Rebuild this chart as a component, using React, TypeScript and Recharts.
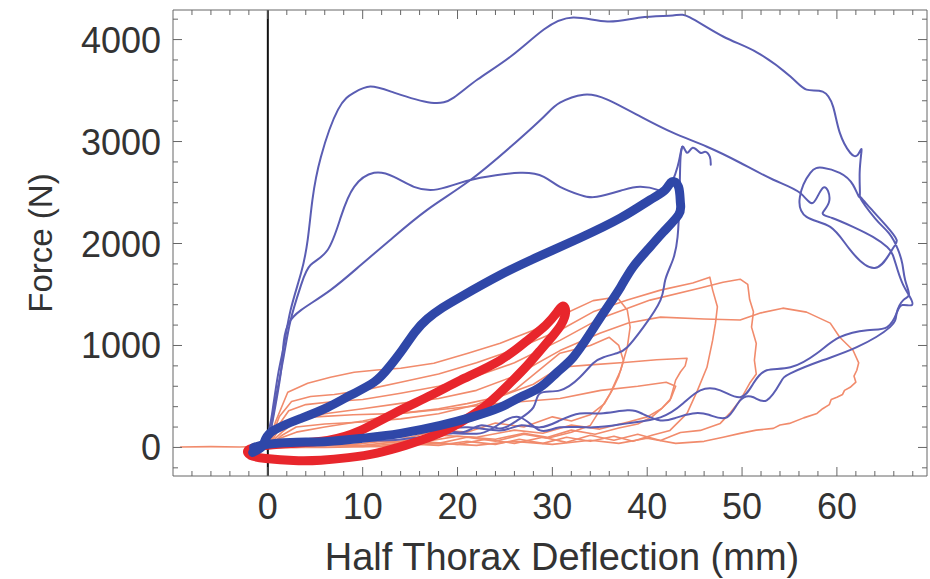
import { LineChart, Line, XAxis, YAxis, ReferenceLine } from "recharts";

type P = [number, number];

// thick mean corridors
const thickBlue: P[] = [
  [-1.6, -49], [-0.5, 20], [0.3, 147], [3.5, 285], [6.3, 393], [8.7, 511], [11.2, 640], [12.8, 790],
  [14.2, 960], [15.5, 1130], [16.8, 1260], [18.4, 1370], [20.3, 1475], [24.5, 1691], [28.7, 1878],
  [32.9, 2054], [37.2, 2251], [40.3, 2428], [41.9, 2526], [42.6, 2605], [43.3, 2556], [43.5, 2398],
  [43.3, 2281], [41.7, 2113], [40.3, 1966], [38.5, 1769], [37.2, 1573], [35.6, 1347], [34.0, 1121],
  [32.2, 885], [30.5, 737], [28.7, 590], [26.6, 492], [24.5, 393], [21.4, 295], [18.2, 216],
  [14.0, 138], [9.8, 88], [6.3, 59], [2.4, 49], [-0.2, 29], [-1.5, 0],
];

const thickRed: P[] = [
  [-0.2, 20], [2.4, 39], [6.3, 69], [9.8, 167], [13.3, 334], [17.2, 511], [20.3, 659], [24.5, 855],
  [27.4, 1052], [29.3, 1199], [30.5, 1327], [31.1, 1386], [31.4, 1327], [30.9, 1200], [30, 1090],
  [28.8, 960], [27.4, 810], [25.9, 665], [24.3, 520], [22.4, 370], [20.2, 240], [17.6, 120],
  [14.5, 20], [11.5, -55], [8.5, -100], [5.6, -125], [2.7, -128], [-0.2, -108], [-1.8, -79],
  [-2.1, -29], [-1.3, 0],
];

// thin blue tests
const blueA: P[] = [
  [-0.5, 0], [0.1, 167], [0.5, 364], [1.1, 727], [1.7, 1003], [2.4, 1347], [3.5, 1710], [4.2, 2035],
  [4.7, 2428], [5.6, 2851], [7.4, 3313], [9.1, 3480], [10.8, 3539], [13.3, 3480], [17.2, 3381],
  [19.6, 3431], [22.1, 3608], [25.6, 3834], [29.1, 4099], [32.2, 4217], [35.8, 4178], [39.3, 4217],
  [42.7, 4237], [44.5, 4217], [48, 4030], [51.6, 3873], [55.1, 3637], [56.8, 3509], [58.5, 3490],
  [59.6, 3342], [60.3, 3087], [61.4, 2890], [62.2, 2870], [62.6, 2920], [62.4, 2693], [62.4, 2458],
  [61.7, 2575], [60.3, 2693], [58.5, 2743], [57.2, 2693], [56.1, 2458], [56.8, 2261], [59.3, 2163],
  [61.4, 1937], [64, 1760], [65.8, 1937], [66.3, 2035], [65.3, 2163], [63.5, 2349], [62.4, 2458],
  [64, 2250], [65.5, 2100], [66.4, 1950], [66.9, 1800], [67.2, 1640], [67.6, 1500], [67.0, 1445],
  [66.3, 1317], [65.6, 1180], [62.1, 983], [58.5, 855], [55.1, 727], [54, 629], [52.6, 462],
  [51.2, 492], [49.8, 462], [48.4, 295], [46.5, 320], [44.8, 334], [43, 290], [41.4, 265],
  [39.5, 330], [37.9, 364], [35.1, 334], [32.9, 334], [30.8, 265], [28.7, 197], [26.6, 216],
  [24.5, 167], [21.1, 197], [17.5, 167], [14, 138], [9.8, 98], [5.6, 69], [1.4, 39], [-0.2, 10],
];

const blueB: P[] = [
  [-0.2, 0], [0.3, 167], [0.8, 462], [1.6, 855], [2.4, 1248], [3.5, 1592], [4.5, 1789], [6.3, 1936],
  [7.7, 2261], [9.1, 2556], [11.2, 2693], [13.3, 2654], [15.4, 2556], [17.5, 2526], [19.6, 2575],
  [22.4, 2644], [26.6, 2693], [29.1, 2654], [30.8, 2556], [32.9, 2477], [34.7, 2458], [37.5, 2526],
  [39.3, 2556], [41.1, 2526], [42.1, 2526], [43.2, 2752], [43.7, 2949], [44.2, 2890], [44.8, 2939],
  [45.6, 2890], [46.1, 2900], [46.6, 2851], [46.7, 2772],
];

const blueBReturn: P[] = [
  [43.7, 2949], [43.5, 2821], [43.4, 2428], [43.2, 2064], [42.7, 1838], [41.9, 1642], [41.4, 1445],
  [39.6, 1180], [37.9, 983], [36.8, 924], [35.4, 885], [34.3, 826], [32.9, 688], [30.8, 560],
  [28.7, 531], [28, 393], [26.3, 265], [24.5, 187], [22.4, 216], [20.3, 147], [17.2, 187],
  [14, 108], [9.8, 88], [5.6, 49], [1.4, 20],
];

const blueC: P[] = [
  [-0.2, 0], [0.3, 167], [0.9, 462], [1.4, 757], [1.7, 1052], [2.2, 1219], [3.5, 1347], [6.6, 1543],
  [9.8, 1789], [12.9, 2035], [16.8, 2330], [21.1, 2605], [25.6, 2949], [29.1, 3244], [30.8, 3381],
  [33.3, 3460], [35.8, 3411], [39.3, 3244], [42.7, 3087], [46.3, 2949], [49.8, 2792], [53.3, 2625],
  [56.1, 2497], [57.5, 2400], [58.6, 2550], [59.2, 2420], [58.5, 2300], [59.5, 2250], [61.7, 2163],
  [63.8, 2064], [65.3, 1966], [65.9, 1887], [66.4, 1740], [67, 1592], [67.7, 1475], [67.9, 1396],
  [66.9, 1396], [66.3, 1317], [65.3, 1180], [63.2, 1150], [60.3, 1081], [57.9, 924], [55.1, 786],
  [52.6, 757], [51.2, 629], [49.8, 492], [47.7, 560], [45.6, 560], [43.8, 433], [41.4, 295],
  [37.9, 236], [34.3, 197], [30.8, 197], [28.7, 167], [26.6, 295], [24.5, 236], [22.4, 138],
  [19.3, 138], [15.8, 98], [11.9, 69], [6.6, 69], [2.4, 49], [0.1, 20],
];

// thin orange tests
const orange1: P[] = [
  [0, 0], [1.2, 300], [2.5, 450], [4.5, 500], [7, 520], [10, 560], [14, 640], [18, 720], [22, 830],
  [26, 960], [30.8, 1150], [34.3, 1330], [37.9, 1445], [41.4, 1543], [44.8, 1612], [46.6, 1670],
  [46.9, 1543], [47.4, 1380], [47.2, 1219], [46.9, 1052], [46.3, 786], [45.3, 560], [44.2, 334],
  [42.4, 167], [40.5, 120], [38.5, 60], [36.5, 110], [34, 60], [31.5, 100], [29, 40], [26.5, 80],
  [24, 30], [21, 60], [18, 20], [14, 40], [10, 10], [6, 20], [2, 0], [0, 0],
];

const orange2: P[] = [
  [0, 0], [1, 200], [2.2, 360], [4, 420], [7, 450], [10, 470], [14, 531], [18, 600], [22, 700],
  [26, 830], [30.8, 1050], [35.1, 1268], [40.3, 1445], [45.6, 1563], [48, 1620], [49.8, 1650],
  [50.6, 1600], [50.8, 1450], [51.2, 1330], [51, 1180], [51.5, 1020], [51.3, 855], [51.5, 720],
  [50.8, 629], [49.8, 462], [48.7, 334], [47.7, 236], [45.6, 167], [43.5, 147], [41.4, 69],
  [39, 130], [36.5, 70], [34, 120], [31.5, 50], [29, 100], [26, 40], [23, 80], [20, 30], [16, 60],
  [12, 10], [7, 20], [3, 0], [0, 0],
];

const orange3: P[] = [
  [-9.2, 5], [-6, 8], [-3, 5], [-1, 10], [0, 20], [1.5, 150], [3, 260], [6, 330], [10, 380],
  [14, 432], [18, 480], [22, 560], [26, 700], [30.8, 950], [35, 1120], [38, 1220], [41.4, 1278],
  [46, 1260], [49.8, 1250], [52, 1320], [54.3, 1366], [56.8, 1327], [59.3, 1219], [60.3, 1081],
  [61.7, 953], [62.3, 830], [62.1, 757], [61.8, 700], [62, 640], [61.4, 590], [60.8, 560],
  [60.6, 520], [60, 492], [59.4, 470], [59.2, 420], [58.5, 380], [57.9, 334], [56.5, 290],
  [55, 236], [54, 220], [53.3, 187], [51.5, 170], [49.8, 138], [48, 100], [46, 60], [43, 40],
  [40, 90], [37, 40], [34, 70], [30, 30], [26, 60], [22, 20], [18, 40], [12, 10], [6, 0], [0, 0],
];

const orange4: P[] = [
  [0, 0], [0.8, 250], [2.1, 541], [4.2, 629], [6.6, 688], [9.1, 737], [11.5, 760], [14, 776],
  [17.5, 826], [21.1, 924], [24.5, 1022], [28, 1150], [30.8, 1290], [34.3, 1440], [36.8, 1475],
  [37.9, 1347], [38.2, 1180], [37.9, 983], [37.2, 757], [36.1, 531], [35, 364], [34, 216],
  [32, 150], [29.5, 90], [27, 130], [24, 60], [21, 100], [18, 40], [14, 60], [10, 20], [5, 30], [0, 0],
];

const orange5: P[] = [
  [0, 0], [1, 150], [2.5, 260], [5, 300], [9, 320], [14, 334], [18, 380], [21, 430], [24.5, 500],
  [28, 620], [30.8, 786], [34, 810], [37.9, 836], [41, 860], [44.2, 875], [44, 800], [43.5, 740],
  [43, 660], [42.7, 560], [42.4, 462], [41.5, 380], [40.5, 300], [39, 230], [37, 190], [34.5, 130],
  [32, 170], [29.5, 100], [27, 140], [24, 80], [20, 110], [16, 50], [12, 60], [8, 20], [4, 30], [0, 0],
];

const orange6: P[] = [
  [0, 0], [1.5, 120], [3, 200], [6, 230], [10, 250], [14, 280], [18, 330], [22, 420], [26, 560],
  [30.8, 924], [34, 1000], [36, 1080], [37, 1000], [37.5, 850], [37, 700], [36.3, 560], [35.5, 430],
  [34, 320], [32, 260], [30, 300], [27, 200], [24, 240], [21, 150], [18, 170], [15, 100], [12, 110],
  [8, 50], [4, 60], [0, 0],
];

const orange7: P[] = [
  [0, 0], [1, 80], [3, 150], [6, 200], [10, 260], [14, 334], [19, 380], [24.5, 432], [30.8, 480],
  [35.1, 560], [39, 600], [42, 640], [43, 600], [42.5, 480], [41.5, 380], [40, 300], [38, 250],
  [35, 180], [32, 220], [29, 140], [26, 170], [22, 100], [18, 120], [14, 60], [10, 70], [6, 30],
  [3, 20], [0, 0],
];

const xTicks = [-8, -6, -4, -2, 0, 2, 4, 6, 8, 10, 12, 14, 16, 18, 20, 22, 24, 26, 28, 30, 32, 34,
  36, 38, 40, 42, 44, 46, 48, 50, 52, 54, 56, 58, 60, 62, 64, 66, 68];
const xLabels = [0, 10, 20, 30, 40, 50, 60];
const yTicks = [-200, 0, 200, 400, 600, 800, 1000, 1200, 1400, 1600, 1800, 2000, 2200, 2400, 2600,
  2800, 3000, 3200, 3400, 3600, 3800, 4000, 4200];
const yLabels = [0, 1000, 2000, 3000, 4000];

const FONT = "'Liberation Sans', Arial, Helvetica, sans-serif";
const FRAME = "#666";
const TEXT = "#333";
const ORANGE = "#f18b6c";
const SLATE = "#5a5db3";

const toPts = (arr: P[]) => arr.map(([x, y]) => ({ x, y }));

function BottomTick(props: any) {
  const { x, y, payload } = props;
  const v = payload.value;
  const major = v % 10 === 0;
  return (
    <g>
      <line x1={x} y1={y} x2={x} y2={y - (major ? 9 : 5)} stroke={FRAME} />
      {xLabels.includes(v) && (
        <text x={x} y={y + 43} textAnchor="middle" fontSize={36} fill={TEXT} fontFamily={FONT}>
          {v}
        </text>
      )}
    </g>
  );
}

function TopTick(props: any) {
  const { x, y, payload } = props;
  const major = payload.value % 10 === 0;
  return <line x1={x} y1={y} x2={x} y2={y + (major ? 9 : 5)} stroke={FRAME} />;
}

function LeftTick(props: any) {
  const { x, y, payload } = props;
  const v = payload.value;
  const major = v % 1000 === 0;
  return (
    <g>
      <line x1={x} y1={y} x2={x + (major ? 9 : 5)} y2={y} stroke={FRAME} />
      {yLabels.includes(v) && (
        <text x={x - 12} y={y + 13} textAnchor="end" fontSize={36} fill={TEXT} fontFamily={FONT}>
          {v}
        </text>
      )}
    </g>
  );
}

function RightTick(props: any) {
  const { x, y, payload } = props;
  const major = payload.value % 1000 === 0;
  return <line x1={x} y1={y} x2={x - (major ? 9 : 5)} y2={y} stroke={FRAME} />;
}

const xTitle = (props: any) => {
  const vb = props.viewBox;
  return (
    <text x={vb.x + vb.width / 2 + 12} y={vb.y + 94} textAnchor="middle" fontSize={38} fill={TEXT} fontFamily={FONT}>
      Half Thorax Deflection (mm)
    </text>
  );
};

const yTitle = (props: any) => {
  const vb = props.viewBox;
  const cx = 52;
  const cy = vb.y + vb.height / 2;
  return (
    <text x={cx} y={cy} transform={`rotate(-90 ${cx} ${cy})`} textAnchor="middle" fontSize={33} fill={TEXT} fontFamily={FONT}>
      Force (N)
    </text>
  );
};

const oranges = [orange1, orange2, orange3, orange4, orange5, orange6, orange7];
const blues = [blueA, blueB, blueBReturn, blueC];

export default function App() {
  const common = {
    dataKey: "y",
    xAxisId: "b",
    yAxisId: "l",
    dot: false,
    activeDot: false,
    isAnimationActive: false,
    strokeLinejoin: "round" as const,
    strokeLinecap: "round" as const,
  };
  return (
    <div style={{ position: "absolute", left: 0, top: 0, width: 930, height: 579, background: "#fff" }}>
      <LineChart width={930} height={579} margin={{ top: 9, right: 2, bottom: 0, left: 0 }}>
        <XAxis
          xAxisId="b"
          type="number"
          dataKey="x"
          domain={[-10, 69.5]}
          allowDataOverflow
          ticks={xTicks}
          interval={0}
          tick={<BottomTick />}
          tickLine={false}
          tickSize={0}
          tickMargin={0}
          axisLine={{ stroke: FRAME }}
          height={103}
          label={xTitle}
        />
        <XAxis
          xAxisId="t"
          orientation="top"
          type="number"
          dataKey="x"
          domain={[-10, 69.5]}
          allowDataOverflow
          ticks={xTicks}
          interval={0}
          tick={<TopTick />}
          tickLine={false}
          tickSize={0}
          tickMargin={0}
          axisLine={{ stroke: FRAME }}
          height={1}
        />
        <YAxis
          yAxisId="l"
          type="number"
          domain={[-280, 4290]}
          allowDataOverflow
          ticks={yTicks}
          interval={0}
          tick={<LeftTick />}
          tickLine={false}
          tickSize={0}
          tickMargin={0}
          axisLine={{ stroke: FRAME }}
          width={173}
          label={yTitle}
        />
        <YAxis
          yAxisId="r"
          orientation="right"
          type="number"
          domain={[-280, 4290]}
          allowDataOverflow
          ticks={yTicks}
          interval={0}
          tick={<RightTick />}
          tickLine={false}
          tickSize={0}
          tickMargin={0}
          axisLine={{ stroke: FRAME }}
          width={1}
        />
        <ReferenceLine x={0} xAxisId="b" yAxisId="l" stroke="#111" strokeWidth={2} />
        <Line {...common} type="linear" data={toPts(thickRed)} xAxisId="t" yAxisId="r" stroke="none" />
        {oranges.map((o, i) => (
          <Line key={"o" + i} {...common} type="linear" data={toPts(o)} stroke={ORANGE} strokeWidth={1.6} />
        ))}
        {blues.map((b, i) => (
          <Line key={"b" + i} {...common} type="natural" data={toPts(b)} stroke={SLATE} strokeWidth={2} />
        ))}
        <Line {...common} type="natural" data={toPts(thickRed)} stroke="#e8262c" strokeWidth={9} />
        <Line {...common} type="natural" data={toPts(thickBlue)} stroke="#2f47a8" strokeWidth={9} />
      </LineChart>
    </div>
  );
}
